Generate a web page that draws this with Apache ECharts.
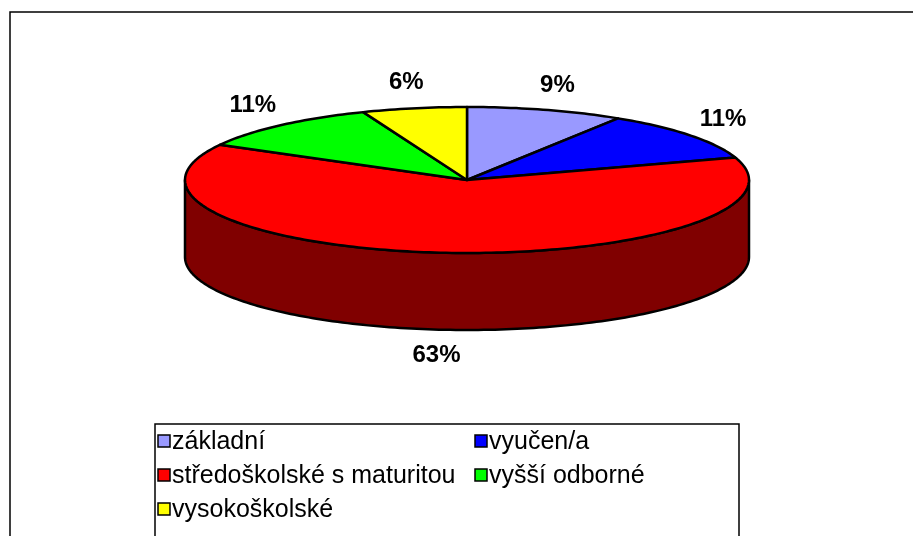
<!DOCTYPE html>
<html>
<head>
<meta charset="utf-8">
<script src="https://cdn.jsdelivr.net/npm/echarts@6/dist/echarts.min.js"></script>
<style>
  html, body { margin: 0; padding: 0; background: #fff; }
  #main { width: 913px; height: 536px; }
</style>
</head>
<body>
<div id="main"></div>
<script>
// vzdelani - podil respondentu
var categories = ['základní', 'vyučen/a', 'středoškolské s maturitou', 'vyšší odborné', 'vysokoškolské'];
var values = [9, 11, 63, 11, 6];
var colors = ['#9999FF', '#0000FF', '#FF0000', '#00FF00', '#FFFF00'];
var sideColors = ['#4D4D80', '#000080', '#800000', '#008000', '#808000'];

// pie geometry (pixels)
var CX = 467, CY = 180, RX = 282, RY = 73, DEPTH = 77;
var FONT = '"Liberation Sans", Arial, sans-serif';

var total = 0;
for (var i = 0; i < values.length; i++) total += values[i];

// slice angles, clockwise from 12 o'clock
function sliceAngles(idx) {
	var acc = 0;
	for (var j = 0; j < idx; j++) acc += values[j];
	return [acc / total * Math.PI * 2, (acc + values[idx]) / total * Math.PI * 2];
}

function pt(a, dy) {
	return [CX + RX * Math.sin(a), CY - RY * Math.cos(a) + (dy || 0)];
}

function arc(a0, a1, dy) {
	var pts = [];
	var n = Math.max(2, Math.ceil(Math.abs(a1 - a0) / 0.02));
	for (var k = 0; k <= n; k++) {
		pts.push(pt(a0 + (a1 - a0) * k / n, dy));
	}
	return pts;
}

function renderSide(params, api) {
	var idx = params.dataIndex;
	var ang = sliceAngles(idx);
	// visible front wall lies between 90deg and 270deg
	var s = Math.max(ang[0], Math.PI / 2);
	var e = Math.min(ang[1], Math.PI * 3 / 2);
	if (e <= s) return null;
	var pts = arc(s, e, 0).concat(arc(e, s, DEPTH));
	return {
		type: 'polygon',
		shape: { points: pts },
		style: { fill: sideColors[idx], stroke: '#000', lineWidth: 2.5, lineJoin: 'round' }
	};
}

function renderTop(params, api) {
	var idx = params.dataIndex;
	var ang = sliceAngles(idx);
	var pts = [[CX, CY]].concat(arc(ang[0], ang[1], 0));
	var mid = (ang[0] + ang[1]) / 2;
	var lx = CX + (RX + 42) * Math.sin(mid);
	var ly = CY - (RY + 26) * Math.cos(mid) + (Math.cos(mid) < 0 ? DEPTH : 0);
	var pct = Math.round(values[idx] / total * 100) + '%';
	return {
		type: 'group',
		children: [{
			type: 'polygon',
			shape: { points: pts },
			style: { fill: colors[idx], stroke: '#000', lineWidth: 2.5, lineJoin: 'round' }
		}, {
			type: 'text',
			style: {
				text: pct, x: lx, y: ly, align: 'center', verticalAlign: 'middle',
				font: 'bold 24px ' + FONT, fill: '#000'
			}
		}]
	};
}

// legend drawn as graphic, two columns like the original
var LEG_X = 155, LEG_Y = 424, LEG_W = 584, COL2 = 317, ROW_H = 34;
var legendItems = [{
	type: 'rect',
	shape: { x: LEG_X, y: LEG_Y, width: LEG_W, height: 140 },
	style: { fill: '#fff', stroke: '#000', lineWidth: 1.5 }
}];
for (var i = 0; i < categories.length; i++) {
	var col = i % 2, row = Math.floor(i / 2);
	var x0 = LEG_X + 3 + col * COL2;
	var yc = LEG_Y + 17 + row * ROW_H;
	legendItems.push({
		type: 'rect',
		shape: { x: x0, y: yc - 6, width: 12, height: 12 },
		style: { fill: colors[i], stroke: '#000', lineWidth: 1.5 }
	});
	legendItems.push({
		type: 'text',
		style: {
			text: categories[i], x: x0 + 14, y: yc + 1, verticalAlign: 'middle',
			font: '25px ' + FONT, fill: '#000'
		}
	});
}

var myChart = echarts.init(document.getElementById('main'), null, { renderer: 'canvas' });
var option = {
	backgroundColor: '#fff',
	animation: false,
	graphic: [{
		type: 'rect',
		z: -10,
		shape: { x: 10, y: 12, width: 920, height: 560 },
		style: { fill: '#fff', stroke: '#000', lineWidth: 1.5 }
	}, {
		type: 'group',
		z: 10,
		children: legendItems
	}],
	series: [{
		type: 'custom',
		name: 'side',
		coordinateSystem: 'none',
		renderItem: renderSide,
		data: values,
		z: 2
	}, {
		type: 'custom',
		name: 'top',
		coordinateSystem: 'none',
		renderItem: renderTop,
		data: values,
		z: 3
	}]
};
myChart.setOption(option);
</script>
</body>
</html>
